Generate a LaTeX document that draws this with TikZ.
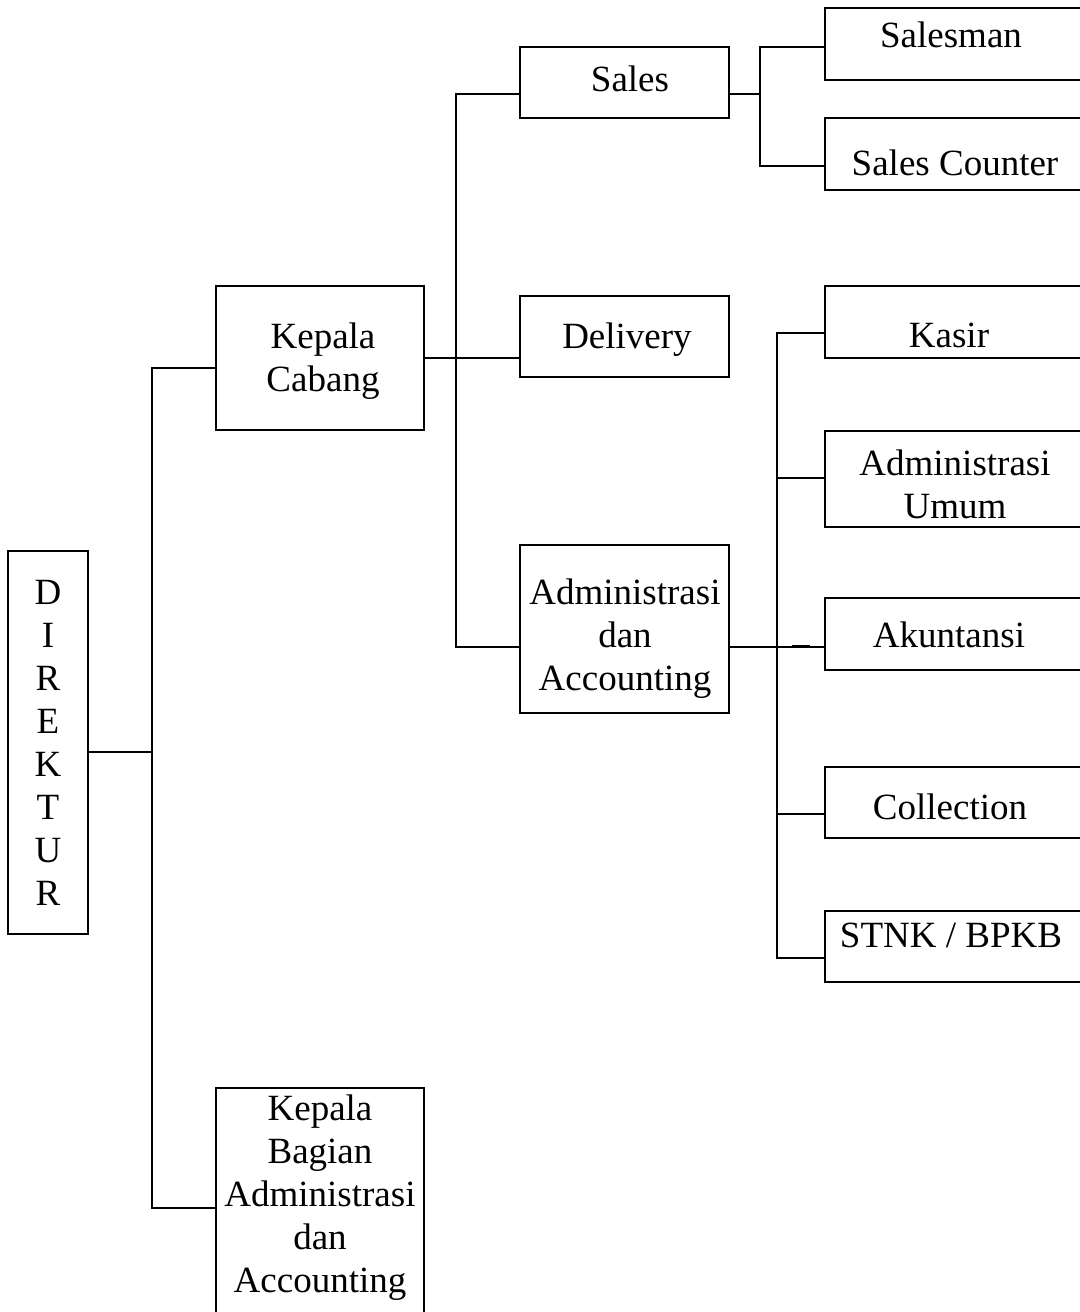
\documentclass[tikz,border=0pt]{standalone}
\usepackage{fontspec}
\setmainfont{Liberation Serif}
\begin{document}
\begin{tikzpicture}[x=0.5pt,y=-0.5pt,line width=1pt]
        \useasboundingbox (0,0) rectangle (1080,1312);
        \clip (0,0) rectangle (1080,1312);
        \begin{scope}[every node/.style={draw,rectangle,inner sep=0pt,minimum width=104.5pt}]
            \node[minimum width=40pt,minimum height=191.5pt] (dir) at (48,742.5) {};
            \node[minimum width=104pt,minimum height=72pt] (kc) at (320,358) {};
            \node[minimum width=104pt,minimum height=121pt] (kb) at (320,1209) {};
            \node[minimum height=35.5pt] (sales) at (624.5,82.5) {};
            \node[minimum height=40.5pt] (del) at (624.5,336.5) {};
            \node[minimum height=84pt] (adm) at (624.5,629) {};
        \end{scope}
        \begin{scope}[every node/.style={draw,rectangle,inner sep=0pt,minimum width=128.5pt,minimum height=36pt}]
            \node (sm) at (953.5,44) {};
            \node (sc) at (953.5,154) {};
            \node (kas) at (953.5,322) {};
            \node[minimum height=48pt] (au) at (953.5,479) {};
            \node (ak) at (953.5,634) {};
            \node[minimum height=35.5pt] (col) at (953.5,802.5) {};
            \node[minimum height=35.5pt] (st) at (953.5,946.5) {};
        \end{scope}
        \begin{scope}[every node/.style={inner sep=0pt,anchor=base,align=center,font=\fontsize{18.5}{21.5}\selectfont}]
            \node (dir-t) at (48,905) {D\\I\\R\\E\\K\\T\\U\\R};
            \node (kc-t) at (323,391) {Kepala\\Cabang};
            \node (kb-t) at (320,1292) {Kepala\\Bagian\\Administrasi\\dan\\Accounting};
            \node (sales-t) at (630,91) {Sales};
            \node (del-t) at (627,348) {Delivery};
            \node (adm-t) at (625,690) {Administrasi\\dan\\Accounting};
            \node (sm-t) at (951,47) {Salesman};
            \node (sc-t) at (955,175) {Sales Counter};
            \node (kas-t) at (949,347) {Kasir};
            \node (au-t) at (955,518) {Administrasi\\Umum};
            \node (ak-t) at (949,647) {Akuntansi};
            \node (col-t) at (950,819) {Collection};
            \node (st-t) at (951,947) {STNK / BPKB};
        \end{scope}
        \coordinate (b0) at (152,752);
        \coordinate (b1) at (152,368);
        \coordinate (b2) at (152,1208);
        \coordinate (c0) at (456,358);
        \coordinate (c1) at (456,94);
        \coordinate (c2) at (456,647);
        \coordinate (d0) at (760,94);
        \coordinate (d1) at (760,47);
        \coordinate (d2) at (760,166);
        \coordinate (e1) at (777,333);
        \coordinate (e2) at (777,478);
        \coordinate (e3) at (777,647);
        \coordinate (e4) at (777,814);
        \coordinate (e5) at (777,958);
        \draw (dir.east |- b0) -- (b0);
        \draw (kc.west |- b1) -- (b1) -- (b2) -- (kb.west |- b2);
        \draw (kc.east |- c0) -- (del.west |- c0);
        \draw (sales.west |- c1) -- (c1) -- (c2) -- (adm.west |- c2);
        \draw (sales.east |- d0) -- (d0);
        \draw (sm.west |- d1) -- (d1) -- (d2) -- (sc.west |- d2);
        \draw (kas.west |- e1) -- (e1) -- (e5) -- (st.west |- e5);
        \draw (au.west |- e2) -- (e2);
        \draw (col.west |- e4) -- (e4);
        \draw (adm.east |- e3) -- (ak.west |- e3);
        \draw[line width=1.5pt] (792,646) -- (810,646);
    \end{tikzpicture}
\end{document}
